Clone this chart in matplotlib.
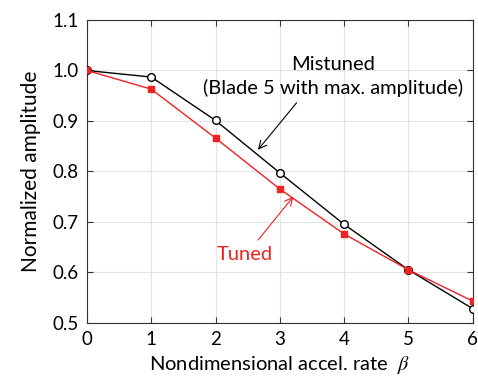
import matplotlib
matplotlib.use("Agg")
import matplotlib.pyplot as plt

beta = [0, 1, 2, 3, 4, 5, 6]
mistuned = [1.0, 0.987, 0.901, 0.797, 0.695, 0.605, 0.528]
tuned = [1.0, 0.963, 0.866, 0.765, 0.676, 0.605, 0.543]

plt.rcParams['font.family'] = ['Lato', 'DejaVu Sans']
plt.rcParams['font.size'] = 14
plt.rcParams['mathtext.fontset'] = 'stix'

fig = plt.figure(figsize=(4.78, 3.78), dpi=100)
ax = fig.add_axes([0.182, 0.146, 0.807, 0.801])

ax.plot(beta, mistuned, color='black', lw=1.0, marker='o', markersize=5.5,
        markerfacecolor='white', markeredgecolor='black', zorder=3)
ax.plot(beta, tuned, color='#ee2222', lw=1.0, marker='s', markersize=5,
        markerfacecolor='#ee2222', markeredgecolor='#ee2222', zorder=3)

ax.set_xlim(0, 6)
ax.set_ylim(0.5, 1.1)
ax.set_xticks(beta)
ax.set_yticks([0.5, 0.6, 0.7, 0.8, 0.9, 1.0, 1.1])
ax.set_yticklabels(['0.5', '0.6', '0.7', '0.8', '0.9', '1.0', '1.1'])
ax.grid(True, color='#e4e4e4', lw=0.8)
ax.set_axisbelow(True)
ax.tick_params(direction='in', top=True, right=True, length=4, color='#333333',
               labelsize=13.5, pad=6)
for s in ax.spines.values():
    s.set_color('#333333')
    s.set_linewidth(0.8)

ax.set_xlabel(r'Nondimensional accel. rate  $\mathit{\beta}$', fontsize=14.5, labelpad=4)
ax.set_ylabel('Normalized amplitude', fontsize=15, labelpad=8)

# annotations
ax.text(3.83, 0.988, 'Mistuned\n(Blade 5 with max. amplitude)', ha='center', va='center',
        fontsize=14.5, linespacing=1.45)
ax.annotate('', xy=(2.66, 0.843), xytext=(3.26, 0.936),
            arrowprops=dict(arrowstyle='->', color='black', lw=0.8, shrinkA=0, shrinkB=0))
ax.text(2.45, 0.635, 'Tuned', ha='center', va='center', color='#ee2222', fontsize=14.5)
ax.annotate('', xy=(3.21, 0.75), xytext=(2.66, 0.664),
            arrowprops=dict(arrowstyle='->', color='#ee2222', lw=0.8, shrinkA=0, shrinkB=0))

fig.savefig('out.png', dpi=100)
